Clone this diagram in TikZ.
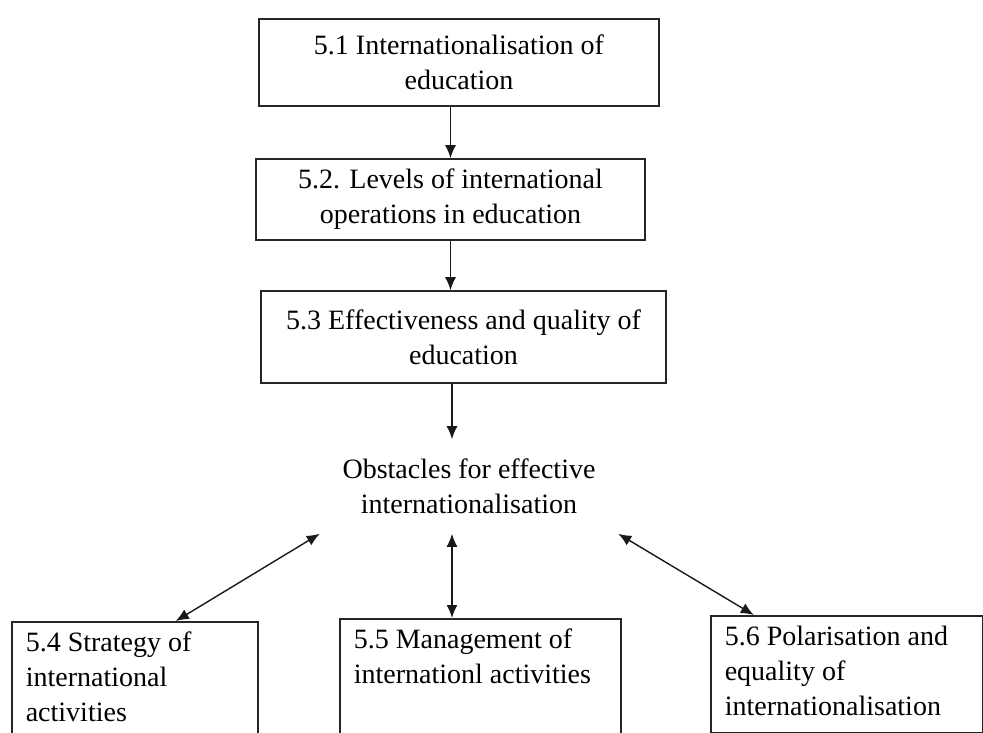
\documentclass[tikz,border=0pt]{standalone}
\usepackage{fontspec}
\setmainfont{Liberation Serif}
\usetikzlibrary{arrows.meta,calc,positioning}

% text of a box that is filled from its top
\newcommand{\toptext}[3]{\parbox[t][#1][t]{#2}{\raggedright #3}}

\begin{document}
\begin{tikzpicture}[x=1pt,y=-1pt,
  box/.style={draw=black!85, line width=1.6pt, align=center, inner sep=0pt,
    font=\fontsize{28}{35}\selectfont},
  sub/.style={draw=black!85, line width=1.6pt, anchor=north west,
    inner xsep=14pt, inner ysep=10pt, font=\fontsize{28}{35}\selectfont},
  link/.style={line width=1.4pt, draw=black!90, -{Latex[length=13pt,width=11pt]}},
  both/.style={link, {Latex[length=13pt,width=11pt]}-{Latex[length=13pt,width=11pt]}}]

\useasboundingbox (0,0) rectangle (983,733);
\clip (0,0) rectangle (983,733);

\node[box, minimum width=400pt, minimum height=87pt] (intl)
 at (459,62.5) {5.1 Internationalisation of\\education};
\node[box, minimum width=389pt, minimum height=81pt] (levels)
 at (450.5,199.5) {5.2. Levels of international\\operations in education};
\node[box, minimum width=405pt, minimum height=92pt] (effect)
 at (463.5,337) {5.3 Effectiveness and quality of\\education};
\node[box, draw=none, minimum width=297pt, minimum height=93pt] (obst)
 at (469,486.5) {Obstacles for effective\\internationalisation};

\node[sub] (strat) at (11,621)
 {\toptext{130pt}{218pt}{5.4 Strategy of\\international\\activities}};
\node[sub] (manag) at (339,618)
 {\toptext{130pt}{253pt}{5.5 Management of\\internationl activities}};
\node[sub] (polar) at (710,615)
 {\toptext{97pt}{244pt}{5.6 Polarisation and\\equality of\\internationalisation}};

% flow down the chapter
\draw[link] (levels.north |- intl.south) -- (levels.north);
\draw[link] (levels.south) -- (levels.south |- effect.north);
\draw[link] ([xshift=-17pt]obst.north |- effect.south) -- ([xshift=-17pt]obst.north);

% obstacles to the three themes
\draw[both] (obst.south west) -- ([xshift=41pt]strat.north);
\draw[both] ([xshift=-17pt]obst.south) -- ([xshift=-17pt]obst.south |- manag.north);
\draw[both] (obst.south east) -- ([xshift=-93pt]polar.north);
\end{tikzpicture}
\end{document}
